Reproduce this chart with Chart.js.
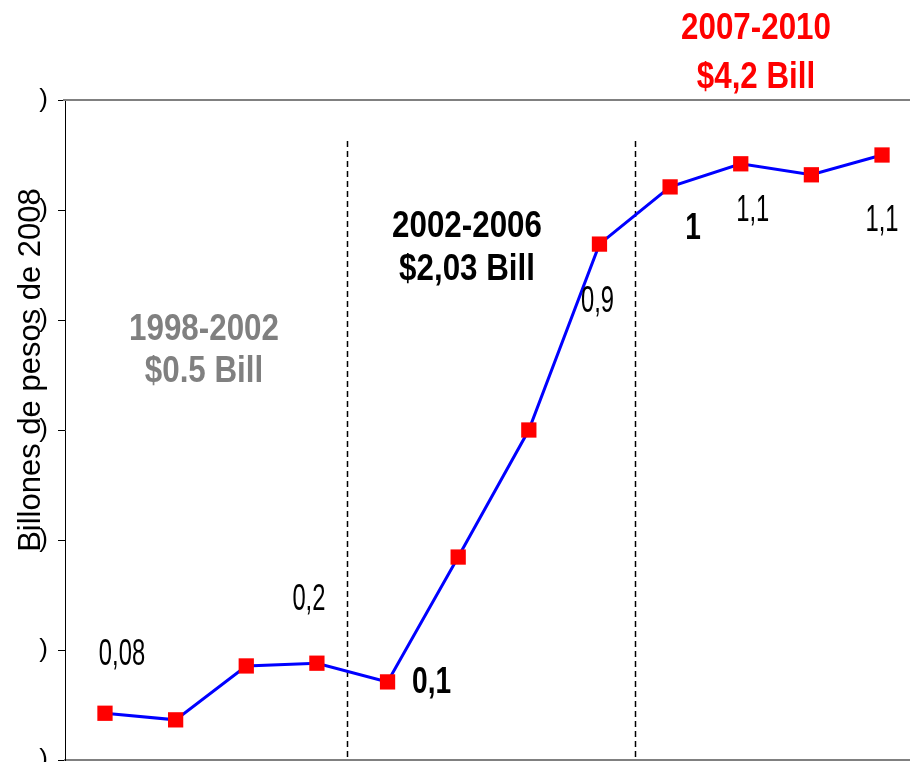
<!DOCTYPE html>
<html>
<head>
<meta charset="utf-8">
<script src="https://cdn.jsdelivr.net/npm/chart.js@4"></script>
<style>
  html, body { margin: 0; padding: 0; background: #fff; overflow: hidden; }
</style>
</head>
<body>
<canvas id="chart_inversion" width="910" height="762"></canvas>
<script>
// data
const years = ['1999', '2000', '2001', '2002', '2003', '2004', '2005', '2006', '2007', '2008', '2009', '2010'];
const values = [0.085, 0.073, 0.171, 0.176, 0.142, 0.369, 0.600, 0.938, 1.042, 1.084, 1.064, 1.100];
const pointLabels = ['0,08', '', '', '0,2', '0,1', '', '', '0,9', '1', '1,1', '', '1,1'];
const boldLabels = [4, 8];
const yTickLabels = [')', ')', ')', ')', ')', ')', ')'];
const periods = ['1998-2002', '2002-2006', '2007-2010'];
const periodTotals = ['$0.5 Bill', '$2,03 Bill', '$4,2 Bill'];
const periodBreaks = [3.43, 7.5];
const yTitle = 'Billones de pesos de 2008';

const FONT = '"Liberation Sans", Arial, sans-serif';

// label placement relative to each point: [dx, dy to baseline]
const labelOffsets = { 0: [17, -48], 3: [-8, -53], 4: [44, 11], 7: [-2, 68], 8: [23, 52], 9: [12, 57], 11: [0, 76] };
const periodStyle = [
    { color: '#808080', x: 204, y1: 340, y2: 382 },
    { color: '#000000', x: 467, y1: 237, y2: 280 },
    { color: '#ff0000', x: 756, y1: 39, y2: 88 }
];

function squeezeText(ctx, text, x, y, font, color, sx) {
    ctx.save();
    ctx.translate(x, y);
    ctx.scale(sx, 1);
    ctx.font = font;
    ctx.fillStyle = color;
    ctx.textAlign = 'center';
    ctx.textBaseline = 'alphabetic';
    ctx.fillText(text, 0, 0);
    ctx.restore();
}

function noPad(s) {
    s.paddingTop = 0;
    s.paddingBottom = 0;
    s.paddingLeft = 0;
    s.paddingRight = 0;
}

const extras = {
    id: 'extras',
    beforeDatasetsDraw(chart) {
        const ctx = chart.ctx;
        const area = chart.chartArea;
        const xs = chart.scales.x;
        ctx.save();
        // top frame line
        ctx.strokeStyle = '#808080';
        ctx.lineWidth = 2;
        ctx.beginPath();
        ctx.moveTo(area.left - 2, area.top);
        ctx.lineTo(area.right, area.top);
        ctx.stroke();
        // period separators
        ctx.strokeStyle = '#000';
        ctx.lineWidth = 1.5;
        ctx.setLineDash([6, 4]);
        periodBreaks.forEach(b => {
            const px = Math.round(xs.getPixelForValue(b)) + 0.5;
            ctx.beginPath();
            ctx.moveTo(px, 141);
            ctx.lineTo(px, area.bottom);
            ctx.stroke();
        });
        ctx.restore();
    },
    afterDatasetsDraw(chart) {
        const ctx = chart.ctx;
        const meta = chart.getDatasetMeta(0);
        pointLabels.forEach((t, i) => {
            if (!t) return;
            const p = meta.data[i];
            const off = labelOffsets[i];
            const bold = boldLabels.includes(i);
            squeezeText(ctx, t, p.x + off[0], p.y + off[1],
                (bold ? 'bold ' : '') + '36px ' + FONT, '#000', bold ? 0.78 : 0.66);
        });
        periods.forEach((t, i) => {
            const s = periodStyle[i];
            squeezeText(ctx, t, s.x, s.y1, 'bold 36px ' + FONT, s.color, 0.87);
            squeezeText(ctx, periodTotals[i], s.x, s.y2, 'bold 36px ' + FONT, s.color, 0.87);
        });
        // axis title
        ctx.save();
        ctx.translate(31, 370);
        ctx.rotate(-Math.PI / 2);
        ctx.font = '31px ' + FONT;
        ctx.fillStyle = '#000';
        ctx.textAlign = 'center';
        ctx.textBaseline = 'middle';
        ctx.fillText(yTitle, 0, 0);
        ctx.restore();
    }
};

new Chart(document.getElementById('chart_inversion'), {
    type: 'line',
    data: {
        labels: years,
        datasets: [{
            label: 'Inversión',
            data: values.map((v, i) => ({ x: i, y: v })),
            borderColor: '#0000ff',
            borderWidth: 3,
            tension: 0,
            clip: false,
            pointStyle: 'rect',
            pointRadius: 10.8,
            pointHoverRadius: 10.8,
            pointBackgroundColor: '#ff0000',
            pointBorderWidth: 0
        }]
    },
    options: {
        responsive: false,
        animation: false,
        events: [],
        layout: { autoPadding: false, padding: { top: 100, right: 0, bottom: 0, left: 0 } },
        scales: {
            x: {
                type: 'linear',
                min: -0.566,
                max: 11.396,
                ticks: { display: false },
                grid: { display: false },
                border: { display: true, color: '#808080', width: 2 },
                afterFit: s => { s.height = 2; noPad(s); }
            },
            y: {
                min: 0,
                max: 1.2,
                ticks: {
                    stepSize: 0.2,
                    padding: 10,
                    color: '#000',
                    font: { family: FONT, size: 26 },
                    callback: (value, index) => yTickLabels[index]
                },
                grid: { drawOnChartArea: false, tickLength: 7, color: '#000', tickColor: '#000' },
                border: { display: true, color: '#000', width: 1 },
                afterFit: s => { s.width = 65; noPad(s); }
            }
        },
        plugins: {
            legend: { display: false },
            tooltip: { enabled: false }
        }
    },
    plugins: [extras]
});
</script>
</body>
</html>
